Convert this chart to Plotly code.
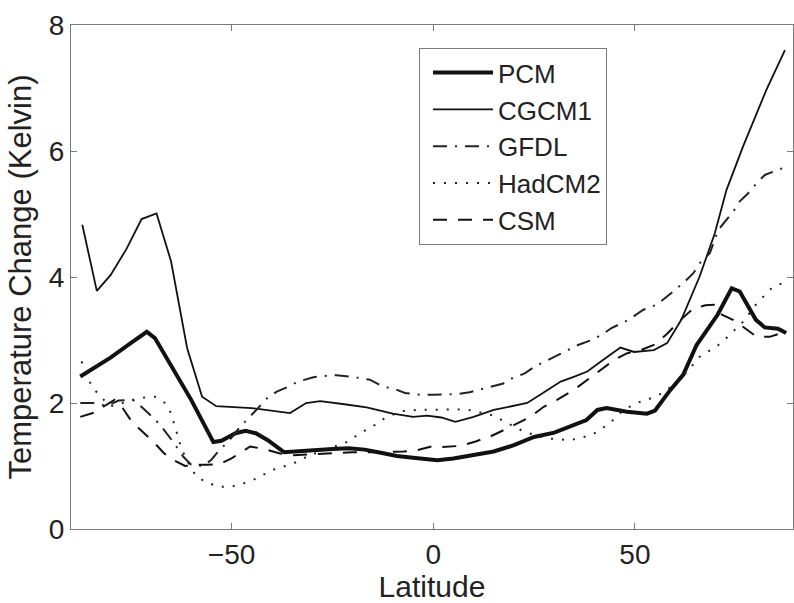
import plotly.graph_objects as go

# ---- data ----
pcm_lat = [-87.5, -80, -75, -71, -69, -65, -62.5, -60, -54.5, -52.5, -49, -46.5, -44, -41, -37,
           -33, -29, -25, -21, -17, -13, -9, -5, -2, 1, 5, 10, 15, 20, 25, 30, 33, 38, 40.7, 43,
           48, 53, 55, 58.7, 62, 65.3, 70.5, 74, 76, 80, 82.2, 85.5, 87.5]
pcm_val = [2.42, 2.72, 2.95, 3.13, 3.03, 2.6, 2.33, 2.05, 1.38, 1.40, 1.52, 1.56, 1.52, 1.41, 1.22,
           1.24, 1.25, 1.27, 1.28, 1.26, 1.21, 1.16, 1.13, 1.11, 1.09, 1.12, 1.17, 1.23, 1.33, 1.46,
           1.53, 1.60, 1.73, 1.89, 1.92, 1.86, 1.83, 1.88, 2.2, 2.45, 2.92, 3.4, 3.82, 3.77, 3.32,
           3.2, 3.18, 3.11]

cgcm_lat = [-87, -83.4, -80, -76, -72.3, -68.6, -65, -61, -57.3, -53.8, -45, -40, -35.5, -31.5,
            -28, -22, -16.5, -10, -5, -1.5, 2, 5.5, 10, 15, 20, 23.3, 27, 31.6, 35, 38.2, 42, 46.4,
            49.8, 54.7, 58, 61.5, 66, 69.8, 72.7, 76.8, 82.6, 87.2]
cgcm_val = [4.83, 3.78, 4.03, 4.45, 4.92, 5.01, 4.25, 2.87, 2.10, 1.95, 1.92, 1.88, 1.84, 2.0,
            2.03, 1.98, 1.93, 1.83, 1.78, 1.80, 1.77, 1.70, 1.78, 1.89, 1.95, 2.0, 2.15, 2.34, 2.42,
            2.50, 2.68, 2.88, 2.81, 2.84, 2.95, 3.32, 4.0, 4.69, 5.38, 6.07, 6.97, 7.60]

gfdl_lat = [-87.5, -84, -81, -78, -74.5, -72, -68.8, -66.7, -64.2, -62, -60, -57, -55, -53.7, -50,
            -47.9, -44, -41.3, -38.8, -35.9, -33.5, -29.7, -27, -24, -20.6, -18, -15.7, -12.4, -9.5,
            -7, -3.3, 0, 2.4, 5.9, 9, 11.6, 14.5, 17.4, 19.8, 22.7, 25.2, 27.7, 30.9, 33.5, 35.9,
            39.3, 41.7, 44.2, 47.5, 49.6, 52.1, 55.4, 57.4, 59.5, 62.4, 64.5, 66.1, 68.6, 70.7,
            72.7, 74.4, 76, 78.1, 80.2, 82.2, 85.5, 87.5]
gfdl_val = [2.0, 2.0, 1.95, 2.04, 2.05, 1.92, 1.73, 1.57, 1.36, 1.15, 1.02, 1.0, 1.1, 1.2, 1.45,
            1.62, 1.88, 2.07, 2.18, 2.26, 2.34, 2.41, 2.43, 2.44, 2.42, 2.39, 2.37, 2.26, 2.22,
            2.16, 2.13, 2.13, 2.13, 2.14, 2.17, 2.21, 2.26, 2.31, 2.40, 2.47, 2.58, 2.66, 2.76,
            2.84, 2.92, 3.0, 3.08, 3.19, 3.29, 3.37, 3.48, 3.56, 3.66, 3.77, 3.93, 4.06, 4.22,
            4.38, 4.75, 4.9, 5.04, 5.2, 5.33, 5.49, 5.62, 5.70, 5.75]

had_lat = [-87.2, -84.7, -82.5, -80, -77, -73, -69, -66.5, -65, -63.5, -62.4, -60.5, -58.7, -55.8,
           -53, -50.4, -48, -44.6, -39.7, -34.7, -30.6, -26, -21.5, -17, -14.5, -12, -8, -4, 0, 4,
           8, 11, 15, 17.8, 22.7, 28, 34, 39.3, 43.8, 47, 50.4, 53, 56, 60, 63, 66, 70.7, 73, 77,
           80.2, 84.3, 87.5]
had_val = [2.66, 2.27, 2.1, 1.95, 2.0, 2.08, 2.1, 2.0, 1.84, 1.5, 1.27, 1.02, 0.83, 0.73, 0.67,
           0.67, 0.70, 0.78, 0.94, 1.04, 1.17, 1.27, 1.38, 1.56, 1.65, 1.76, 1.87, 1.89, 1.89,
           1.90, 1.90, 1.86, 1.80, 1.70, 1.54, 1.44, 1.41, 1.49, 1.68, 1.88, 2.0, 2.05, 2.13, 2.3,
           2.5, 2.73, 2.92, 3.05, 3.3, 3.58, 3.85, 3.92]

csm_lat = [-87.5, -84, -81.8, -79, -77, -75, -73, -69, -66.7, -64, -61.5, -59, -56, -53, -50, -47,
           -45.4, -42, -38, -34.7, -28, -20, -12, -7.4, -4, -0.4, 2, 6.8, 10.5, 14.2, 17.5, 20.8,
           24.1, 27.4, 30.7, 34.9, 38.2, 41.5, 44.8, 48.1, 51.4, 55, 58, 61, 64.5, 67.5, 69.6, 71,
           74.3, 76.8, 80.2, 83.4, 86.3, 87.5]
csm_val = [1.78, 1.85, 1.94, 2.05, 1.92, 1.73, 1.6, 1.36, 1.2, 1.08, 1.0, 1.02, 1.02, 1.03, 1.12,
           1.25, 1.31, 1.27, 1.2, 1.17, 1.19, 1.22, 1.22, 1.23, 1.25, 1.31, 1.30, 1.32, 1.39, 1.47,
           1.57, 1.68, 1.78, 1.94, 2.05, 2.21, 2.37, 2.52, 2.68, 2.79, 2.84, 2.93, 3.1, 3.3, 3.5,
           3.55, 3.56, 3.42, 3.32, 3.21, 3.05, 3.05, 3.11, 3.12]

x_ticks = [-50, 0, 50]
y_ticks = [0, 2, 4, 6, 8]

FONT = "Liberation Sans, Arial, Helvetica, sans-serif"
AX = "#7a7a7a"
INK = "#111111"

fig = go.Figure()
fig.add_trace(go.Scatter(x=pcm_lat, y=pcm_val, mode="lines", name="PCM",
                         line=dict(color=INK, width=4)))
fig.add_trace(go.Scatter(x=cgcm_lat, y=cgcm_val, mode="lines", name="CGCM1",
                         line=dict(color=INK, width=1.8)))
fig.add_trace(go.Scatter(x=gfdl_lat, y=gfdl_val, mode="lines", name="GFDL",
                         line=dict(color="#222222", width=2, dash="14px,8px,2px,8px")))
fig.add_trace(go.Scatter(x=had_lat, y=had_val, mode="lines", name="HadCM2",
                         line=dict(color="#222222", width=2, dash="2px,9px")))
fig.add_trace(go.Scatter(x=csm_lat, y=csm_val, mode="lines", name="CSM",
                         line=dict(color=INK, width=2, dash="14px,11px")))

fig.update_layout(
    width=794, height=603,
    margin=dict(l=71, r=1, t=25, b=74, autoexpand=False),
    paper_bgcolor="white", plot_bgcolor="white",
    font=dict(family=FONT, size=28, color="#222222"),
    showlegend=True,
    legend=dict(x=0.482, y=0.954, xanchor="left", yanchor="top",
                bgcolor="white", bordercolor=AX, borderwidth=1,
                font=dict(family=FONT, size=26, color="#222222"),
                itemwidth=60, indentation=8, tracegroupgap=0),
)
fig.update_xaxes(range=[-89.8, 89.2], tickvals=x_ticks, ticks="inside", ticklen=6,
                 tickcolor=AX, showline=True, linecolor=AX, linewidth=1, mirror="ticks",
                 showgrid=False, zeroline=False, automargin=False,
                 tickfont=dict(size=28),
                 title=dict(text="Latitude", standoff=10, font=dict(size=30)))
fig.update_yaxes(range=[0, 8], tickvals=y_ticks, ticks="inside", ticklen=6,
                 tickcolor=AX, showline=True, linecolor=AX, linewidth=1, mirror="ticks",
                 showgrid=False, zeroline=False, automargin=False,
                 tickfont=dict(size=28),
                 title=dict(text="Temperature Change (Kelvin)", standoff=7, font=dict(size=31)))

post = "document.body.style.margin='0px';document.body.style.padding='0px';"
fig.write_html("out.html", config={"displayModeBar": False}, post_script=post)
